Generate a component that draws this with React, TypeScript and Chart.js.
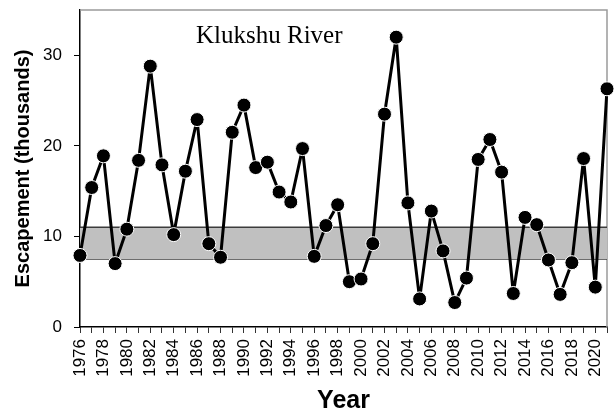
import React, { useEffect, useRef } from 'react';
import { Chart, registerables } from 'chart.js';

Chart.register(...registerables);

const years = [
  '1976', '1977', '1978', '1979', '1980', '1981', '1982', '1983', '1984', '1985',
  '1986', '1987', '1988', '1989', '1990', '1991', '1992', '1993', '1994', '1995',
  '1996', '1997', '1998', '1999', '2000', '2001', '2002', '2003', '2004', '2005',
  '2006', '2007', '2008', '2009', '2010', '2011', '2012', '2013', '2014', '2015',
  '2016', '2017', '2018', '2019', '2020', '2021',
];

const escapement = [
  7.9, 15.4, 18.9, 7.0, 10.8, 18.4, 28.8, 17.9, 10.2, 17.2,
  22.9, 9.2, 7.7, 21.5, 24.5, 17.6, 18.2, 14.9, 13.8, 19.7,
  7.8, 11.2, 13.5, 5.0, 5.3, 9.2, 23.5, 32.0, 13.7, 3.1,
  12.8, 8.4, 2.7, 5.4, 18.5, 20.7, 17.1, 3.7, 12.1, 11.3,
  7.4, 3.6, 7.1, 18.6, 4.4, 26.3,
];

const xTickLabels = [
  '1976', '1978', '1980', '1982', '1984', '1986', '1988', '1990', '1992', '1994',
  '1996', '1998', '2000', '2002', '2004', '2006', '2008', '2010', '2012', '2014',
  '2016', '2018', '2020',
];

const yTickValues = [0, 10, 20, 30];
const yMin = 0;
const yMax = 35;

const bandLow = 7.5;
const bandHigh = 11;

const chartTitle = 'Klukshu River';
const xTitle = 'Year';
const yTitle = 'Escapement (thousands)';

const SANS = "'Liberation Sans', Arial, Helvetica, sans-serif";
const SERIF = "'Liberation Serif', 'Times New Roman', serif";

const framePlugin = {
  id: 'frameAndLabel',
  beforeDatasetsDraw(chart: any) {
    const { ctx, chartArea } = chart;
    ctx.save();
    ctx.strokeStyle = '#9a9a9a';
    ctx.lineWidth = 1.5;
    ctx.beginPath();
    ctx.moveTo(chartArea.left, chartArea.top);
    ctx.lineTo(chartArea.right, chartArea.top);
    ctx.lineTo(chartArea.right, chartArea.bottom);
    ctx.stroke();
    ctx.restore();
  },
  afterDraw(chart: any) {
    const { ctx, chartArea } = chart;
    ctx.save();
    ctx.font = `25px ${SERIF}`;
    ctx.fillStyle = '#000';
    ctx.textAlign = 'left';
    ctx.textBaseline = 'alphabetic';
    ctx.fillText(chartTitle, chartArea.left + 116, chartArea.top + 33);
    ctx.restore();
  },
};

export default function App() {
  const canvasRef = useRef<HTMLCanvasElement | null>(null);

  useEffect(() => {
    if (!canvasRef.current) return;
    const chart = new Chart(canvasRef.current, {
      type: 'line',
      data: {
        labels: years,
        datasets: [
          {
            label: 'Escapement',
            data: escapement,
            borderColor: '#000',
            borderWidth: 3,
            borderJoinStyle: 'round',
            backgroundColor: '#000',
            pointBackgroundColor: '#000',
            pointBorderColor: '#fff',
            pointBorderWidth: 1,
            pointRadius: 7,
            tension: 0,
            fill: false,
            clip: false as any,
            order: 1,
          },
          {
            label: 'bandHigh',
            data: [
              { x: years[0], y: bandHigh },
              { x: years[years.length - 1], y: bandHigh },
            ] as any,
            borderColor: '#3c3c3c',
            borderWidth: 1.5,
            backgroundColor: '#c0c0c0',
            pointRadius: 0,
            fill: '+1',
            order: 2,
          },
          {
            label: 'bandLow',
            data: [
              { x: years[0], y: bandLow },
              { x: years[years.length - 1], y: bandLow },
            ] as any,
            borderColor: '#3c3c3c',
            borderWidth: 1.5,
            backgroundColor: '#c0c0c0',
            pointRadius: 0,
            fill: false,
            order: 3,
          },
        ],
      },
      options: {
        responsive: false,
        animation: false,
        layout: { padding: { top: 10, right: 4, left: 0, bottom: 0 } },
        plugins: {
          legend: { display: false },
          tooltip: { enabled: false },
          title: { display: false },
        },
        scales: {
          x: {
            type: 'category',
            offset: false,
            border: { display: true, color: '#000', width: 1.5 },
            grid: {
              display: true,
              drawOnChartArea: false,
              drawTicks: true,
              tickLength: 6,
              color: '#333',
              lineWidth: 1,
            },
            ticks: {
              autoSkip: false,
              minRotation: 90,
              maxRotation: 90,
              padding: 6,
              color: '#000',
              font: { family: SANS, size: 17 },
              callback: function (this: any, value: any) {
                const lab = this.getLabelForValue(value);
                return xTickLabels.includes(lab) ? lab : '';
              },
            },
            title: {
              display: true,
              text: xTitle,
              color: '#000',
              font: { family: SANS, size: 25, weight: 'bold' },
              padding: { top: 0, bottom: -3 },
            },
            afterFit: (s: any) => {
              s.height = 86;
              s.paddingLeft = 0;
              s.paddingRight = 0;
            },
          },
          y: {
            type: 'linear',
            min: yMin,
            max: yMax,
            border: { display: true, color: '#000', width: 1.5 },
            grid: {
              display: true,
              drawOnChartArea: false,
              drawTicks: true,
              tickLength: 6,
              color: '#000',
            },
            ticks: {
              padding: 12,
              color: '#000',
              font: { family: SANS, size: 17 },
            },
            afterBuildTicks: (axis: any) => {
              axis.ticks = yTickValues.map((v) => ({ value: v }));
            },
            title: {
              display: true,
              text: yTitle,
              color: '#000',
              font: { family: SANS, size: 20, weight: 'bold' },
              padding: { top: 11, bottom: 0 },
            },
            afterFit: (s: any) => {
              s.width = 80;
              s.paddingTop = 0;
              s.paddingBottom = 0;
            },
          },
        },
      },
      plugins: [framePlugin],
    });
    return () => chart.destroy();
  }, []);

  return (
    <div style={{ position: 'absolute', left: 0, top: 0, width: 615, height: 413, background: '#fff' }}>
      <canvas ref={canvasRef} width={615} height={413} style={{ width: 615, height: 413, display: 'block' }} />
    </div>
  );
}
